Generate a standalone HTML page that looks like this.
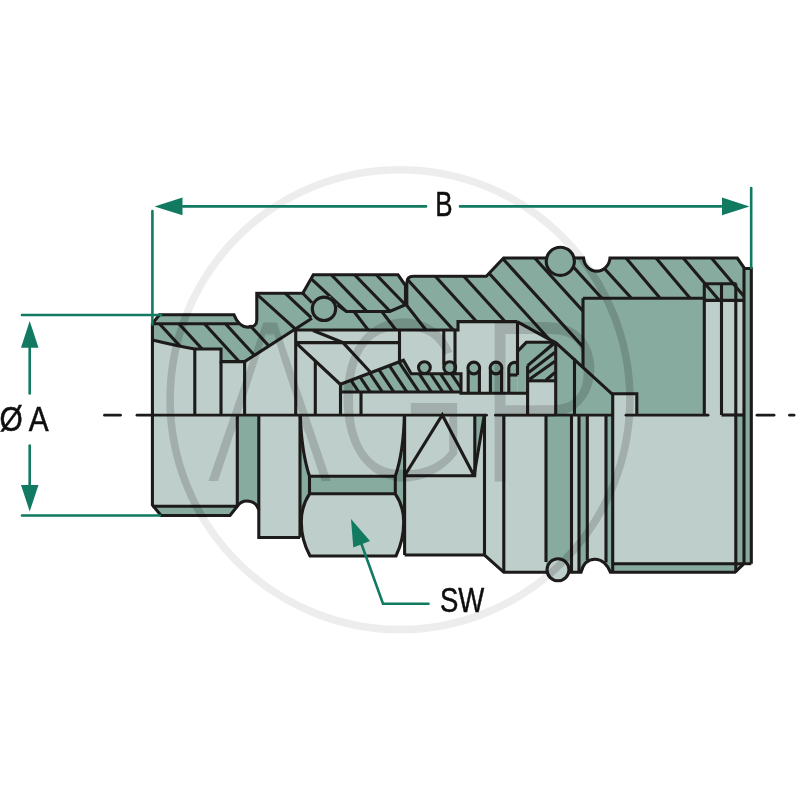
<!DOCTYPE html>
<html>
<head>
<meta charset="utf-8">
<style>
html,body{margin:0;padding:0;background:#fff;}
body{width:800px;height:800px;overflow:hidden;font-family:"Liberation Sans",sans-serif;}
svg{display:block;}
</style>
</head>
<body>
<svg width="800" height="800" viewBox="0 0 800 800">
<defs>
<filter id="thin" x="-5%" y="-5%" width="110%" height="110%"><feMorphology operator="erode" radius="4 3.2"/></filter>
</defs>
<rect width="800" height="800" fill="#fff"/>
<mask id="mOut" maskUnits="userSpaceOnUse" x="0" y="0" width="800" height="800"><rect width="800" height="800" fill="#fff"/><g fill="#000" stroke="#000" stroke-width="4"><path d="M152.4,415 L152.4,323.5 L159.5,314.8 L234,314.8 C236,320 240,327.3 248.5,327.3 C253.5,327.3 256.8,324.5 256.8,320 L256.8,293.2 L302.8,293.2 L313.3,274.8 L398,274.8 L405.3,285.5 L406.8,283 Q406.8,276.2 413.5,276.2 L486.3,276.2 L503.6,258 L583.5,258 A13.3,14.4 0 0 0 610,258 L737.3,258 L744.5,268.5 L751.3,268.5 L751.3,415 Z"/><path d="M152.4,415 L152.4,505 L161,515.5 L230,515.5 L237.3,506.3 A12,12 0 0 1 258.8,510 L258.8,537.5 L300,537.5 L301.5,530 Q303,545 310,556 L396,556 Q402,548 404.6,530 L404.6,555 L484.5,555 L503.8,572.3 L581,572.3 C583,564 587,559.2 595,559.2 C602,559.2 606.5,563 610.5,572.3 L735,572.3 L743.8,563.8 L751.3,563.8 L751.3,415 Z"/><circle cx="560.3" cy="261.3" r="14.1"/><circle cx="558" cy="569.8" r="11"/></g></mask>
<g id="fills">
<path d="M152.4,415 L152.4,323.5 L159.5,314.8 L234,314.8 C236,320 240,327.3 248.5,327.3 C253.5,327.3 256.8,324.5 256.8,320 L256.8,293.2 L302.8,293.2 L313.3,274.8 L398,274.8 L405.3,285.5 L406.8,283 Q406.8,276.2 413.5,276.2 L486.3,276.2 L503.6,258 L583.5,258 A13.3,14.4 0 0 0 610,258 L737.3,258 L744.5,268.5 L751.3,268.5 L751.3,415 Z" fill="#88aba0" />
<path d="M152.4,415 L152.4,505 L161,515.5 L230,515.5 L237.3,506.3 A12,12 0 0 1 258.8,510 L258.8,537.5 L300,537.5 L301.5,530 Q303,545 310,556 L396,556 Q402,548 404.6,530 L404.6,555 L484.5,555 L503.8,572.3 L581,572.3 C583,564 587,559.2 595,559.2 C602,559.2 606.5,563 610.5,572.3 L735,572.3 L743.8,563.8 L751.3,563.8 L751.3,415 Z" fill="#bececb" />
<path d="M152.4,415 L152.4,340 Q175,345.5 194.8,349 L221,349 L221,361.6 L244.6,361.6 L293.5,330 L458,330 L458,321.6 L517.5,321.6 L517.5,393.3 L528,393.3 L528,415 Z" fill="#bececb" />
<polygon points="517.5,321.6 556,343 526.3,342.3 517.5,351.3" fill="#bececb" />
<polygon points="528,380.8 555.7,380.8 555.7,415 528,415" fill="#bececb" />
<polygon points="612.7,393.8 636.8,393.8 636.8,415 612.7,415" fill="#bececb" />
<polygon points="704.3,300.4 744,300.4 744,415 704.3,415" fill="#bececb" />
<polygon points="340.5,384.2 403.4,360.2 411.2,373.7 461,373.7 461,392 340.5,392" fill="#88aba0" />
<path d="M468.2,393.3 L468.2,370 A5.9,5.9 0 1 1 479.40000000000003,370 L479.40000000000003,393.3 Z" fill="#88aba0" />
<path d="M490.4,393.3 L490.4,370 A5.9,5.9 0 1 1 501.6,370 L501.6,393.3 Z" fill="#88aba0" />
<path d="M508.8,393.3 L508.8,368 A5.9,5.9 0 0 1 517.5,363.2 L517.5,393.3 Z" fill="#88aba0" />
<circle cx="424.4" cy="367.6" r="5.9" fill="#88aba0"/>
<circle cx="449.7" cy="367.6" r="5.9" fill="#88aba0"/>
<clipPath id="cLo"><path d="M152.4,415 L152.4,505 L161,515.5 L230,515.5 L237.3,506.3 A12,12 0 0 1 258.8,510 L258.8,537.5 L300,537.5 L301.5,530 Q303,545 310,556 L396,556 Q402,548 404.6,530 L404.6,555 L484.5,555 L503.8,572.3 L581,572.3 C583,564 587,559.2 595,559.2 C602,559.2 606.5,563 610.5,572.3 L735,572.3 L743.8,563.8 L751.3,563.8 L751.3,415 Z"/></clipPath>
<g clip-path="url(#cLo)">
<polygon points="152.4,506.3 237.3,506.3 230,515.5 161,515.5" fill="#88aba0" />
<path d="M237.3,415 L258.8,415 L258.8,510 A12,12 0 0 0 237.3,506.3 Z" fill="#88aba0" />
<path d="M300,415 Q301.5,452 309.5,476.3 L309.5,493.8 Q301.3,506 301.3,522 L300,522 Z" fill="#88aba0" />
<path d="M404.6,415 Q403.5,452 395.3,476.3 L395.3,493.8 Q403.7,506 403.7,522 L404.6,522 Z" fill="#88aba0" />
<polygon points="309.5,476.3 395.3,476.3 395.3,493.8 309.5,493.8" fill="#88aba0" />
<polygon points="474.8,415 484.5,415 474,475.8" fill="#88aba0" />
<polygon points="546,415 571.5,415 571.5,572.3 546,572.3" fill="#88aba0" />
<polygon points="579,415 587.3,415 587.3,573 579,573" fill="#88aba0" />
<polygon points="606,415 612.7,415 612.7,573 606,573" fill="#88aba0" />
<polygon points="612.7,563.8 743.8,563.8 735,572.3 612.7,572.3" fill="#88aba0" />
<polygon points="735.8,415 751.3,415 751.3,563.8 735.8,563.8" fill="#88aba0" />
</g>
</g>
<defs>
<clipPath id="cPlug"><path d="M152.4,323.8 L239,323.8 Q249,328.5 256.8,320.5 L256.8,293.2 L302.8,293.2 L311,302.5 L313,316 L293.5,330 L244.6,361.6 L221,361.6 L221,349 L194.8,349 Q175,345.5 152,340 Z"/></clipPath>
<clipPath id="cSleeve"><path d="M302.8,293.2 L313.3,274.8 L398,274.8 L405.5,285.5 L405.5,304.8 L389.8,311.5 L346.3,311.5 L338,305.5 L330,296 L311,302.5 Z"/></clipPath>
<clipPath id="cBody"><path d="M336,311.5 L346.3,311.5 L389.8,311.5 L405.5,304.8 L406.8,283 Q406.8,276.2 413.5,276.2 L486.3,276.2 L503.6,258 L583.5,258 A13.3,14.4 0 0 0 610,258 L737.3,258 L744,268.5 L744,300.4 L704.3,300.4 L704.3,298.2 L583,298.2 L583,368 L555,342.3 L517,321.3 L458,321.3 L458,330 L330,330 Z"/></clipPath>
<clipPath id="cGuide"><polygon points="340.5,384.2 403.4,360.2 411.2,373.7 461,373.7 461,392 340.5,392"/></clipPath>
<clipPath id="cSeal"><polygon points="528,365 552,342.5 555.7,342.5 555.7,380.8 528,380.8"/></clipPath>
</defs>
<g clip-path="url(#cPlug)" stroke="#1d1a1a" stroke-width="3.1" fill="none">
<path d="M64.8557,220.638 L254.144,426.962"/>
<path d="M84.3557,220.638 L273.644,426.962"/>
<path d="M109.856,220.638 L299.144,426.962"/>
<path d="M130.856,220.638 L320.144,426.962"/>
<path d="M153.856,220.638 L343.144,426.962"/>
<path d="M155.739,203.345 L363.861,390.655"/>
<path d="M183.992,198.113 L388.008,389.887"/>
</g>
<g clip-path="url(#cSleeve)" stroke="#1d1a1a" stroke-width="3.1" fill="none">
<path d="M209.982,184.658 L415.018,375.342"/>
<path d="M234.479,175.053 L429.521,375.947"/>
<path d="M257.779,175.053 L452.821,375.947"/>
<path d="M279.479,175.053 L474.521,375.947"/>
</g>
<g clip-path="url(#cBody)" stroke="#1d1a1a" stroke-width="3.1" fill="none">
<path d="M269.14,201.233 L439.86,423.167"/>
<path d="M296.94,201.233 L467.66,423.167"/>
<path d="M320.61,195.177 L492.99,415.823"/>
<path d="M311.026,173.408 L499.374,380.592"/>
<path d="M341.826,173.408 L530.174,380.592"/>
<path d="M370.326,173.408 L558.674,380.592"/>
<path d="M398.326,173.408 L586.674,380.592"/>
<path d="M425.326,173.408 L613.674,380.592"/>
<path d="M457.826,173.408 L646.174,380.592"/>
<path d="M488.326,173.408 L676.674,380.592"/>
<path d="M509.576,164.208 L697.924,371.392"/>
<path d="M535.687,151.395 L716.713,365.005"/>
<path d="M565.687,151.395 L746.713,365.005"/>
<path d="M592.887,151.395 L773.913,365.005"/>
<path d="M621.087,151.395 L802.113,365.005"/>
</g>
<g clip-path="url(#cGuide)" stroke="#1d1a1a" stroke-width="3.1" fill="none">
<path d="M281.142,275.513 L436.458,508.487"/>
<path d="M292.442,275.513 L447.758,508.487"/>
<path d="M304.742,275.513 L460.058,508.487"/>
<path d="M316.142,275.513 L471.458,508.487"/>
<path d="M329.242,275.513 L484.558,508.487"/>
<path d="M341.342,275.513 L496.658,508.487"/>
<path d="M353.742,275.513 L509.058,508.487"/>
<path d="M365.142,275.513 L520.458,508.487"/>
<path d="M374.942,275.513 L530.258,508.487"/>
<path d="M385.842,275.513 L541.158,508.487"/>
</g>
<g clip-path="url(#cSeal)" stroke="#1d1a1a" stroke-width="3.1" fill="none">
<path d="M528,365 L552,342.5"/>
<path d="M528.7,372.5 L555,352.3"/>
<path d="M529.5,379.3 L555,361.3"/>
<path d="M546,380 L555,372.5"/>
</g>
<g id="lines" fill="none" stroke="#1d1a1a" stroke-width="3.1" stroke-linejoin="miter" stroke-linecap="butt">
<path d="M152.4,415 L152.4,323.5 L159.5,314.8 L234,314.8 C236,320 240,327.3 248.5,327.3 C253.5,327.3 256.8,324.5 256.8,320 L256.8,293.2 L302.8,293.2 L313.3,274.8 L398,274.8 L405.5,285.5 L405.5,304.8 L389.8,311.5 L346.3,311.5 L337.5,305" />
<path d="M406.8,305.5 L406.8,283 Q406.8,276.2 413.5,276.2 L486.3,276.2 L503.6,258 L546.5,258" />
<path d="M574.5,258 L583.5,258 A13.3,14.4 0 0 0 610,258 L737.3,258 L744.5,268.5 L751.3,268.5 L751.3,563.8" />
<path d="M152.4,415 L152.4,505 L161,515.5 L230,515.5 L237.3,506.3 A12,12 0 0 1 258.8,510 L258.8,537.5 L300,537.5" />
<path d="M404.6,555 L484.5,555 L503.8,572.3 L546.5,572.3" />
<path d="M568.5,572.3 L581,572.3 C583,564 587,559.2 595,559.2 C602,559.2 606.5,563 610.5,572.3 L735,572.3 L743.8,563.8 L751.3,563.8" />
<path d="M152.4,323.8 L239,323.8"/>
<path d="M152.4,506.3 L237.3,506.3"/>
<path d="M152.4,340 Q175,345.5 194.8,349 L221,349 L221,361.6 L244.6,361.6 L312,318.2" />
<path d="M302.8,293.2 L312,302.8"/>
<path d="M194.8,349 L194.8,415"/>
<path d="M221,361.6 L221,415"/>
<path d="M244.6,361.6 L244.6,415"/>
<path d="M295.7,330 L295.7,415"/>
<path d="M315.3,361.5 L315.3,415"/>
<path d="M340.5,384.5 L340.5,415"/>
<path d="M361,392 L361,415"/>
<path d="M293.5,330 L458,330 L458,321.6 L517.5,321.6"/>
<path d="M295.7,342.6 L399.5,342.6"/>
<path d="M399.5,330 L399.5,361"/>
<path d="M443.8,330 L443.8,365"/>
<path d="M455,330 L455,374"/>
<path d="M313,330.5 L343,342.6 L370,371.8"/>
<path d="M295.7,342.6 L340.5,384.5"/>
<path d="M340.5,384.2 L403.4,360.2 L411.2,373.7 L461,373.7 L461,392"/>
<path d="M340.5,392 L461,392"/>
<path d="M459.5,393.3 L528,393.3"/>
<circle cx="424.4" cy="367.6" r="5.9"/>
<circle cx="449.7" cy="367.6" r="5.9"/>
<path d="M468.2,393.3 L468.2,370" />
<path d="M479.40000000000003,393.3 L479.40000000000003,370" />
<circle cx="473.8" cy="368" r="5.9"/>
<path d="M490.4,393.3 L490.4,370" />
<path d="M501.6,393.3 L501.6,370" />
<circle cx="496" cy="368" r="5.9"/>
<path d="M508.8,393.3 L508.8,368 A5.9,5.9 0 0 1 517.5,363.2" />
<path d="M508.8,375 L517.5,375"/>
<path d="M517.5,321.6 L517.5,375"/>
<path d="M517.5,351.3 L526.3,342.3 L555.7,342.3"/>
<path d="M527.6,365.6 L527.6,415"/>
<path d="M527.6,365.6 L554,343.5"/>
<path d="M528,380.8 L555.7,380.8"/>
<path d="M555.7,342.3 L555.7,415"/>
<path d="M517.5,321.8 L556.2,343.1 L612.5,394.3"/>
<path d="M574.5,358.5 L574.5,415"/>
<path d="M583,298.2 L583,368"/>
<path d="M583,298.2 L704.3,298.2"/>
<path d="M704.3,300.4 L744,300.4"/>
<path d="M612.7,415 L612.7,393.8 L636.8,393.8 L636.8,415"/>
<path d="M704.3,283.8 L704.3,415"/>
<path d="M721.5,283.8 L721.5,415"/>
<path d="M735.8,283.8 L735.8,572.3"/>
<path d="M744,268.5 L744,563.8"/>
<path d="M704.3,283.8 L736.5,283.8"/>
<path d="M721.5,415 L743.5,415"/>
<path d="M237.3,415 L237.3,506.3"/>
<path d="M258.8,415 L258.8,510"/>
<path d="M300,415 L300,537.5"/>
<path d="M404.6,415 L404.6,555"/>
<path d="M484.5,415 L484.5,555"/>
<path d="M503.8,415 L503.8,572.3"/>
<path d="M546,415 L546,562"/>
<path d="M571.5,415 L571.5,572"/>
<path d="M579,415 L579,572.3"/>
<path d="M587.3,415 L587.3,560.5"/>
<path d="M606,415 L606,562.5"/>
<path d="M612.7,415 L612.7,572.3"/>
<path d="M612.7,563.8 L743.8,563.8"/>
<path d="M300.3,415 Q301.5,452 309.5,476.3 L309.5,493.8 Q301.3,506 301.3,522 Q301.3,540 310,556 L396,556 Q403.7,540 403.7,522 Q403.7,506 395.3,493.8 L395.3,476.3 Q403.5,452 404.4,415" />
<path d="M309.5,476.3 L395.3,476.3"/>
<path d="M309.5,493.8 L395.3,493.8"/>
<path d="M404.6,475.8 L474,475.8 L442.3,415 L404.6,475.8"/>
<path d="M474.8,415 L474.8,475.8"/>
<path d="M484.3,415 L474,475.8"/>
</g>
<circle cx="324" cy="308.8" r="11.7" fill="#88aba0" stroke="#1d1a1a" stroke-width="3.1"/>
<circle cx="560.3" cy="261.3" r="14.1" fill="#88aba0" stroke="#1d1a1a" stroke-width="3.1"/>
<circle cx="558" cy="569.8" r="11" fill="#bececb" stroke="#1d1a1a" stroke-width="3.1"/>
<g opacity="0.15">
<circle cx="400" cy="399.6" r="229.9" fill="none" stroke="#000" stroke-width="7.6"/>
<clipPath id="noBar"><path clip-rule="evenodd" d="M0,0H800V800H0Z M240,415 L299.5,415 L307,439 L232,439 Z"/></clipPath>
<g clip-path="url(#noBar)"><text transform="translate(0,484) scale(0.89,1)" font-family="'Liberation Sans', sans-serif" font-size="240" fill="#000" filter="url(#thin)"><tspan x="226.97" y="0" textLength="152" lengthAdjust="spacingAndGlyphs">A</tspan><tspan x="370.79" y="-1.5" textLength="163" lengthAdjust="spacingAndGlyphs">G</tspan><tspan x="532.58" y="0" textLength="152" lengthAdjust="spacingAndGlyphs">P</tspan></text></g>
</g>
<rect width="800" height="800" fill="#fff" opacity="0.55" mask="url(#mOut)"/>
<g fill="none" stroke="#1d1a1a" stroke-width="2.8" stroke-linecap="round">
<path d="M104.5,415.2 L120.5,415.2"/>
<path d="M137,415.2 L486.5,415.2"/>
<path d="M495.5,415.2 L612,415.2"/>
<path d="M626,415.2 L708,415.2"/>
<path d="M757,415.2 L774,415.2"/>
<path d="M789.5,415.2 L794,415.2"/>
</g>
<g fill="none" stroke="#117a61" stroke-width="2.6" stroke-linecap="round">
<path d="M152.4,211 L152.4,324.5"/>
<path d="M751.2,188 L751.2,268"/>
<path d="M183,206.4 L426,206.4"/>
<path d="M460,206.4 L721,206.4"/>
<path d="M22,315 L161,315"/>
<path d="M22,515.5 L160,515.5"/>
<path d="M29.7,348 L29.7,393.5"/>
<path d="M29.7,445.5 L29.7,485"/>
<path d="M361.5,544 L383,603.8 L428.5,603.8"/>
</g>
<g fill="#117a61">
<polygon points="154.5,206.4 182.5,197.5 182.5,215.3" fill="#117a61" />
<polygon points="749.5,206.4 722,197.5 722,215.3" fill="#117a61" />
<polygon points="29.7,321 21,347.8 38.5,347.8" fill="#117a61" />
<polygon points="29.7,511.5 21,485 38.5,485" fill="#117a61" />
<polygon points="351,519 353.3,547.5 370,541" fill="#117a61" />
</g>
<g opacity="0.995">
<text transform="translate(444,215.6) scale(0.72,1)" font-family="'Liberation Sans', sans-serif" font-size="36" fill="#0e0c0c" stroke="#0e0c0c" stroke-width="0.5" text-anchor="middle">B</text>
<text transform="translate(0,431.2) scale(0.83,1)" x="-0.72 26.51 34.64" font-family="'Liberation Sans', sans-serif" font-size="36" fill="#0e0c0c" stroke="#0e0c0c" stroke-width="0.5">Ø A</text>
<text transform="translate(440,611.8) scale(0.765,1)" font-family="'Liberation Sans', sans-serif" font-size="36" fill="#0e0c0c" stroke="#0e0c0c" stroke-width="0.5" text-anchor="start">SW</text>
</g>
</svg>
</body>
</html>
